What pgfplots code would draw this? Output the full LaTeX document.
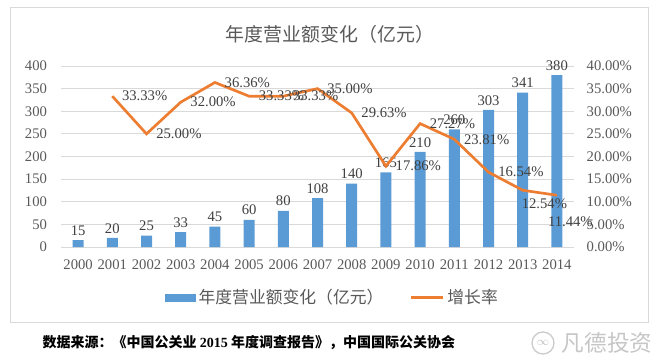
\documentclass[border=0pt]{standalone}
\usepackage{pgfplots}
\pgfplotsset{compat=1.18}
\usepackage{fontspec}
\setmainfont{Liberation Serif}
\newfontfamily\cjk{Noto Sans CJK SC}
\definecolor{barblue}{HTML}{5B9BD5}
\definecolor{lineorange}{HTML}{ED7D31}
\definecolor{txtgray}{HTML}{595959}
\definecolor{lblgray}{HTML}{404040}
\definecolor{gridgray}{HTML}{D9D9D9}
\begin{document}
\begin{tikzpicture}[x=0.75pt,y=0.75pt]
\path[use as bounding box] (0,0) rectangle (660,361);
\draw[gridgray, line width=0.75pt] (10,353) rectangle (648,39);
\node[font=\cjk\fontsize{14.2}{16}\selectfont, text=txtgray] at (330,327) {年度营业额变化（亿元）};
\begin{axis}[
  at={(45.75pt,85.5pt)}, anchor=south west, scale only axis,
  width=384.75pt, height=135.75pt,
  xmin=-0.5, xmax=14.5, ymin=0, ymax=400,
  ytick={0,50,...,400},
  xtick={0,...,14},
  xticklabels={2000,2001,2002,2003,2004,2005,2006,2007,2008,2009,2010,2011,2012,2013,2014},
  axis line style={draw=none}, major tick length=0pt,
  ymajorgrids, grid style={gridgray, line width=0.75pt},
  /pgf/number format/assume math mode=true,
  tick label style={font=\fontsize{11}{12}\selectfont, text=txtgray},
  yticklabel style={xshift=-7pt},
  xticklabel style={yshift=-6pt},
  legend style={at={(0.53,-0.28)}, anchor=center, draw=none, fill=none,
    legend columns=2, font=\cjk\fontsize{12.6}{14}\selectfont, text=txtgray,
    /tikz/every even column/.append style={column sep=18pt}},
]
\addplot[ybar, bar width=8.25pt, fill=barblue, draw=none,
  nodes near coords,
  every node near coord/.append style={font=\fontsize{11}{12}\selectfont, text=lblgray},
  legend image code/.code={\fill[barblue] (0pt,-3pt) rectangle (23pt,3pt);}]
  coordinates {(0,15) (1,20) (2,25) (3,33) (4,45) (5,60) (6,80) (7,108) (8,140) (9,165) (10,210) (11,260) (12,303) (13,341) (14,380)};
\addlegendentry{年度营业额变化（亿元）}
\addlegendimage{legend image code/.code={\draw[lineorange, line width=2pt] (0pt,0pt) -- (24pt,0pt);}}
\addlegendentry{增长率}
\end{axis}
\begin{axis}[
  at={(45.75pt,85.5pt)}, anchor=south west, scale only axis,
  width=384.75pt, height=135.75pt,
  xmin=-0.5, xmax=14.5, ymin=0, ymax=40,
  hide x axis, axis y line*=right,
  ytick={0,5,...,40},
  yticklabel={\pgfmathprintnumber[fixed,fixed zerofill,precision=2]{\tick}\%},
  axis line style={draw=none}, major tick length=0pt,
  /pgf/number format/assume math mode=true,
  tick label style={font=\fontsize{11}{12}\selectfont, text=txtgray},
  yticklabel style={xshift=6pt},
]
\addplot[lineorange, line width=2pt, mark=none,
  visualization depends on={\thisrow{dx} \as \dx},
  visualization depends on={\thisrow{dy} \as \dy},
  nodes near coords={\pgfmathprintnumber[fixed,fixed zerofill,precision=2]{\pgfplotspointmeta}\%},
  every node near coord/.append style={anchor=west, xshift=3pt+\dx pt, yshift=\dy pt, font=\fontsize{11}{12}\selectfont, text=lblgray}]
  table {
x y dx dy
1 33.33 0 0
2 25.00 0 0
3 32.00 0 0
4 36.36 0 0
5 33.33 0 0
6 33.33 0 0
7 35.00 0 0
8 29.63 0 0
9 17.86 0 0
10 27.27 0 0
11 23.81 0 0
12 16.54 0 0
13 12.54 -8 -10
14 11.44 -14 -20
};
\end{axis}
\node[anchor=west, font=\cjk\bfseries\fontsize{10.5}{13}\selectfont] at (38,18) {数据来源：《中国公关业 {\rmfamily\bfseries 2015} 年度调查报告》，中国国际公关协会};
\draw[gray!40, line width=1pt] (543,18) circle (11);
\node[font=\fontsize{9}{10}\selectfont, text=gray!50] at (543,18) {$\infty$};
\node[anchor=west, font=\cjk\fontsize{17}{19}\selectfont, text=gray!45] at (557,18) {凡德投资};
\end{tikzpicture}
\end{document}
